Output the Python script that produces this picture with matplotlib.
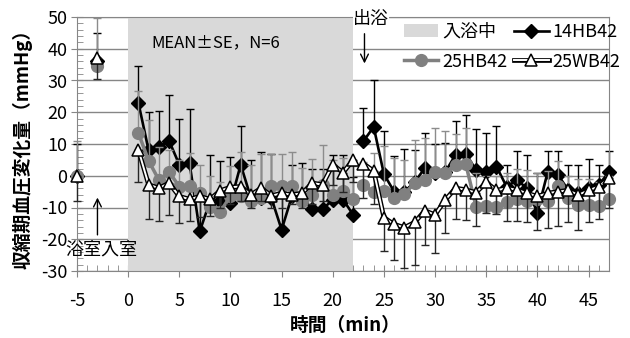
import numpy as np
import matplotlib.pyplot as plt
import matplotlib.ticker as ticker
from matplotlib.lines import Line2D
from matplotlib.patches import Patch

plt.rcParams['font.family'] = ['Noto Sans CJK JP', 'DejaVu Sans']
plt.rcParams['axes.unicode_minus'] = False

# time (min): two points before bathing, then every minute 1..47
time = [-5, -3] + list(range(1, 48))

hb14 = [0, 36,
        23, 8, 9, 11, 3.5, 4, -17.5, -8, -8, -8.5, 3.5, -7, -7, -7, -17, -6.5, -7, -10.5, -10.5, -7.6, -7.5, -12.3,
        10.9, 15.4, 0.5, -5, -5, -2, 2.4, 1, 1.2, 6.6, 7, 1.8, 1.1, 2.9, -3.5, -1.3, -4, -11.6, 1.1, 0.3,
        -4.4, -5.3, -3.9, -2.8, 1.1]
hb14_se = [10, 9,
           11.5, 12, 11.5, 14.4, 14.4, 17, 12.5, 14.6, 12.7, 14.5, 12.1, 12, 14.5, 14, 15, 10, 11, 12.5, 12.5, 14.2, 14.1, 12,
           10.5, 14.9, 13.7, 11.3, 13.5, 10, 11.1, 9, 9, 10.6, 12, 12.9, 12.4, 12.7, 7, 9.2, 10.4, 12.4, 6.8, 7.6,
           7.9, 8.8, 9.3, 6.3, 6.8]

hb25 = [0, 34.5,
        13.5, 4.7, -1.3, 1.2, -3.4, -3.2, -5.5, -9.7, -11.3, -6.5, -6.5, -8, -7, -3.2, -3.2, -3.2, -8, -6, -3, -6, -4.8, -7.2,
        -3, -5, -4.7, -7.1, -5.8, -2.3, -1.3, 1.2, 0.8, 3.5, 3.7, -9.7, -9.5, -9.9, -8.4, -7.4, -8.1, -7.4, -8, -3.2,
        -7, -9.2, -9.2, -9.5, -7.4]
hb25_se = [11, 15.3,
           13.1, 13, 10.3, 6.8, 8.4, 10.4, 9, 9.7, 9.3, 9.5, 13.9, 11.5, 14, 10.2, 10.2, 10.7, 10.4, 11.3, 12.6, 11, 10.3, 10.2,
           7.2, 12.2, 14, 12.7, 10.8, 13.7, 13.2, 13.8, 13.2, 9.5, 11.3, 10.7, 9.5, 9.9, 9.4, 9.4, 9.8, 8.4, 9.5, 7.7,
           7, 8.2, 8.2, 7.5, 7.4]

wb25 = [0, 37,
        8.2, -2.8, -3.9, -2.3, -6.5, -7.4, -6.5, -7.4, -4.7, -3.6, -3.4, -6, -3.9, -6.3, -5.5, -6, -5.5, -2.3, -2.8, 3.5, 1, 5,
        3.8, 1.5, -13.2, -15.3, -16.3, -14.7, -11, -12.3, -7.6, -3.9, -4.4, -5.3, -2.1, -4.6, -3.9, -4.4, -5.5, -6.5, -5.5, -5,
        -4.6, -6, -4.6, -3.4, -0.7]
wb25_se = [8, 6.5,
           10.3, 10.8, 10.3, 10, 8.5, 7, 6.5, 5.4, 5.3, 5.4, 4.6, 4, 4.1, 3.7, 4.5, 3, 4.5, 6.7, 5.2, 6.5, 6, 7,
           10.8, 10.5, 10.5, 11.1, 12.9, 13.3, 10.8, 11.9, 10.3, 9.7, 9.5, 10.5, 9.5, 7.4, 10.3, 9.8, 9.2, 10.5, 11, 10.8,
           10.1, 11, 9.9, 10.3, 9.3]

# connected runs of points (index ranges): the pre-bath points stand alone
segments = [(2, 24), (24, 49)]

t = np.array(time)
zeros = np.zeros(len(time))
gray = '#808080'
axis_gray = '#868686'

fig = plt.figure(figsize=(6.3, 3.38), dpi=100)
ax = fig.add_axes([77 / 630, 1 - 271 / 338, 532 / 630, 254 / 338])

ax.axvspan(0, 22, color='#d9d9d9', lw=0, zorder=1)

# 14HB42
eb = ax.errorbar(t, hb14, yerr=[zeros, hb14_se], fmt='none', ecolor='black',
                 elinewidth=1, capsize=3, capthick=1, zorder=2)
for s, e in segments:
    ax.plot(t[s:e], hb14[s:e], color='black', lw=1.9, zorder=3)
ax.plot(t, hb14, ls='none', marker='D', ms=7, color='black', zorder=3, clip_on=False)

# 25HB42
eb2 = ax.errorbar(t, hb25, yerr=[zeros, hb25_se], fmt='none', ecolor='#8c8c8c',
                  elinewidth=1, capsize=3, capthick=1, zorder=4)
for s, e in segments:
    ax.plot(t[s:e], hb25[s:e], color=gray, lw=2.5, zorder=5)
ax.plot(t, hb25, ls='none', marker='o', ms=8.5, color=gray, zorder=5, clip_on=False)

# 25WB42
eb3 = ax.errorbar(t, wb25, yerr=[wb25_se, zeros], fmt='none', ecolor='#262626',
                  elinewidth=1, capsize=3, capthick=1, zorder=6)
for s, e in segments:
    ax.plot(t[s:e], wb25[s:e], color='black', lw=3.4, zorder=7)
    ax.plot(t[s:e], wb25[s:e], color='white', lw=1.4, zorder=7)
ax.plot(t, wb25, ls='none', marker='^', ms=9, mfc='white', mec='black', mew=1.1, zorder=7, clip_on=False)

for container in (eb, eb2, eb3):
    for art in container.get_children():
        art.set_clip_on(False)

ax.set_xlim(-5, 47)
ax.set_ylim(-30, 50)
ax.xaxis.set_minor_locator(ticker.MultipleLocator(1))
ax.yaxis.set_major_locator(ticker.MultipleLocator(10))
ax.yaxis.set_minor_locator(ticker.MultipleLocator(2))
ax.set_xticks(np.arange(-5, 46, 5))
ax.grid(axis='y', color=axis_gray, lw=1, zorder=0)
ax.set_axisbelow(True)
for sp in ax.spines.values():
    sp.set_color(axis_gray)
ax.tick_params(which='major', direction='inout', length=8, color=axis_gray, labelsize=13)
ax.tick_params(which='minor', direction='in', length=4, color=axis_gray)
ax.tick_params(axis='x', which='major', pad=11)
ax.tick_params(axis='y', which='major', pad=3)

ax.set_ylabel('収縮期血圧変化量（mmHg）', fontsize=13.5, fontweight='bold')
ax.set_xlabel('時間（min）', fontsize=13.5, fontweight='bold')
ax.yaxis.label.set_va('center')
ax.xaxis.label.set_va('center')
ax.yaxis.set_label_coords(-0.103, 0.5)
ax.xaxis.set_label_coords(0.504, -0.213)

ax.text(2.3, 42, 'MEAN±SE，N=6', fontsize=12, va='center', ha='left', zorder=8)

ax.annotate('', xy=(-3, -6), xytext=(-3, -19.5),
            arrowprops=dict(arrowstyle='->', color='black', lw=1, mutation_scale=14))
ax.text(-2.6, -23.2, '浴室入室', fontsize=13, style='italic', ha='center', va='center', zorder=8)

ax.annotate('', xy=(23.1, 34.5), xytext=(23.1, 45.6),
            arrowprops=dict(arrowstyle='->', color='black', lw=1, mutation_scale=14))
ax.text(23.7, 49.5, '出浴', fontsize=13, style='italic', ha='center', va='center', clip_on=False,
        bbox=dict(facecolor='white', edgecolor='none', pad=0), zorder=8)

h_bath = Patch(facecolor='#d9d9d9', edgecolor='none')
h14 = Line2D([], [], color='black', lw=1.9, marker='D', ms=7)
h25 = Line2D([], [], color=gray, lw=2.5, marker='o', ms=8.5)
hw = (Line2D([], [], color='black', lw=3.4),
      Line2D([], [], color='white', lw=1.4, marker='^', ms=9, mfc='white', mec='black', mew=1.1))
ax.legend([h_bath, h25, h14, hw], ['入浴中', '25HB42', '14HB42', '25WB42'],
          ncol=2, loc='upper left', bbox_to_anchor=(404 / 630, 1 - 23 / 338),
          bbox_transform=fig.transFigure, frameon=False, fontsize=13,
          handlelength=1.9, handletextpad=0.2, columnspacing=0.4, labelspacing=0.65,
          borderpad=0, borderaxespad=0)

fig.savefig('out.png', dpi=100)
